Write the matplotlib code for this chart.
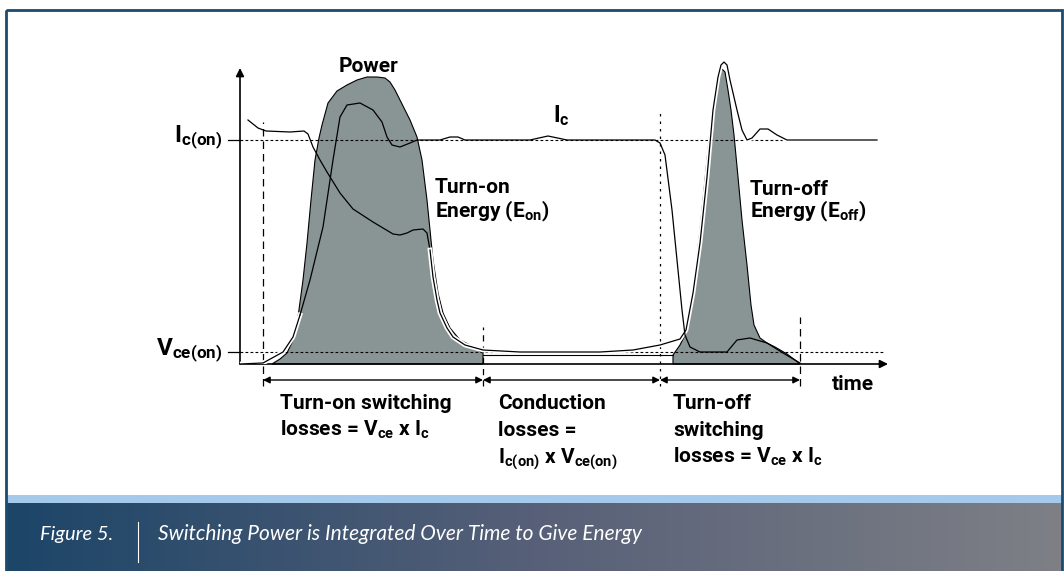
import numpy as np
import matplotlib
matplotlib.use('Agg')
import matplotlib.pyplot as plt
import matplotlib.patheffects as pe
from matplotlib.colors import LinearSegmentedColormap
from matplotlib.patches import Rectangle

# waveform readings: time t and amplitude a (arbitrary units, 0 = axis)
ic_t = [0, 23, 43, 53, 60, 70, 83, 93, 100, 107, 120, 133, 142, 147, 152, 160, 170, 177,
        200, 210, 218, 225, 290, 308, 327, 415, 420, 425, 432, 437, 442, 445, 450, 460,
        487, 497, 510, 527, 543, 560]
ic_a = [0, 1, 12, 27, 49, 84, 137, 204, 247, 259, 261, 254, 242, 227, 219, 217, 221, 224,
        224, 227, 227, 224, 224, 228, 224, 224, 221, 209, 154, 104, 54, 29, 17, 12,
        12, 24, 26, 21, 11, 1]

vce_t = [8, 18, 26, 50, 64, 68, 73, 80, 87, 100, 113, 133, 153, 160, 167, 173, 183, 187,
         190, 193, 197, 200, 207, 213, 225, 243, 280, 360, 393, 420, 440, 446, 453, 460,
         467, 473, 478, 481, 484, 487, 490, 497, 502, 507, 512, 520, 528, 537, 547, 637]
vce_a = [244, 236, 233, 232, 233, 230, 217, 204, 192, 171, 155, 142, 130, 129, 131, 134, 135, 131,
         114, 87, 64, 51, 36, 27, 19, 14, 12, 12, 14, 19, 25, 34, 71, 121,
         187, 254, 287, 299, 302, 299, 284, 254, 234, 224, 226, 235, 235, 229, 224, 224]

pon_t = [32, 40, 47, 53, 58, 63, 67, 71, 75, 79, 82, 88, 97, 107, 117, 127, 137, 145, 150,
         155, 160, 170, 177, 182, 187, 190, 193, 198, 203, 210, 220, 230, 243, 243]
pon_a = [0, 5, 11, 24, 47, 84, 121, 164, 204, 226, 239, 261, 273, 279, 284, 287, 287, 286, 282,
         274, 264, 244, 227, 204, 164, 134, 104, 71, 51, 36, 24, 19, 11, 0]

pcond_t = [243, 433]
pcond_a = [9, 9]

poff_t = [433, 433, 440, 445, 450, 455, 460, 465, 469, 473, 476, 479, 482, 485, 488, 491,
          494, 498, 502, 507, 511, 514, 520, 527, 535, 547, 555, 560]
poff_a = [0, 9, 19, 29, 52, 89, 134, 184, 224, 259, 279, 292, 295, 292, 274, 254,
          229, 187, 144, 99, 59, 39, 26, 21, 17, 10, 4, 0]

ic_on = 224
vce_on = 12
markers_t = [23, 243, 420, 560]
markers_top = [242, 37, 251, 47]

W, H = 1064, 571
plt.rcParams['font.family'] = ['Roboto', 'DejaVu Sans']
plt.rcParams['mathtext.fontset'] = 'custom'
plt.rcParams['mathtext.bf'] = 'Roboto:bold'
plt.rcParams['mathtext.rm'] = 'Roboto:bold'
plt.rcParams['mathtext.default'] = 'bf'

fig = plt.figure(figsize=(W / 100, H / 100), dpi=100)

# frame and caption band
bg = fig.add_axes([0, 0, 1, 1])
bg.set_xlim(0, W)
bg.set_ylim(H, 0)
bg.axis('off')
cmap = LinearSegmentedColormap.from_list('band', ['#1c4568', '#576078', '#7e8086'])
bg.imshow(np.linspace(0, 1, 256)[None, :], extent=[6, 1062, 571, 503], cmap=cmap, aspect='auto')
bg.add_patch(Rectangle((6, 495), 1056, 8, color='#a5c9ea', lw=0))
bg.add_patch(Rectangle((6, 10), 1056, 570, fill=False, ec='#1c4b6f', lw=2))
bg.text(40, 540, 'Figure 5.', color='white', fontsize=14.5, style='italic', family='Lato')
bg.plot([138, 138], [522, 562], color='white', lw=0.8)
bg.text(158, 540, 'Switching Power is Integrated Over Time to Give Energy', color='white',
        fontsize=15, style='italic', family='Lato')

ax = fig.add_axes([240 / W, (H - 364) / H, 648 / W, 296 / H])
ax.set_xlim(0, 648)
ax.set_ylim(0, 296)
ax.axis('off')

gray = '#899494'
ax.fill(pon_t, pon_a, color=gray, ec='black', lw=0.8, zorder=1, clip_on=False)
ax.fill(poff_t, poff_a, color=gray, ec='black', lw=0.8, zorder=1, clip_on=False)
ax.plot(pcond_t, pcond_a, color='black', lw=0.8, zorder=1)

# reference levels
ax.plot([0, 640], [ic_on, ic_on], color='black', lw=0.8, ls=(0, (2.5, 2)), zorder=2)
ax.plot([0, 645], [vce_on, vce_on], color='black', lw=0.8, ls=(0, (2.5, 2)), zorder=2,
        clip_on=False)
for lvl in (ic_on, vce_on):
    ax.plot([-12, 0], [lvl, lvl], color='black', lw=0.9, clip_on=False)
styles = [(0, (6, 4)), (0, (5, 4)), (0, (2, 4)), (0, (6, 4))]
for t, top, s in zip(markers_t, markers_top, styles):
    ax.plot([t, t], [-22, top], color='black', lw=0.9, ls=s, clip_on=False, zorder=2)

halo = [pe.Stroke(linewidth=3.4, foreground='white'), pe.Normal()]
vt = np.array(vce_t)
va = np.array(vce_a)
k = np.searchsorted(vt, 190)
ax.plot(vt[:k + 1], va[:k + 1], color='black', lw=0.9, zorder=3, clip_on=False)
ax.plot(vt[k:], va[k:], color='black', lw=0.9, zorder=3, path_effects=halo, clip_on=False)
it = np.array(ic_t)
ia = np.array(ic_a)
j = np.searchsorted(it, 60)
ax.plot(it[:j + 1], ia[:j + 1], color='black', lw=0.9, zorder=4, path_effects=halo)
ax.plot(it[j:], ia[j:], color='black', lw=0.9, zorder=4)

# axes arrows
arr = dict(arrowstyle='-|>', color='black', lw=1.2, mutation_scale=12, shrinkA=0, shrinkB=0)
ax.annotate('', xy=(0, 296), xytext=(0, 0), arrowprops=arr, annotation_clip=False)
ax.annotate('', xy=(648, 0), xytext=(0, 0), arrowprops=arr, annotation_clip=False)

# span arrows
dbl = dict(arrowstyle='<|-|>', color='black', lw=1, mutation_scale=10, shrinkA=0, shrinkB=0)
for t0, t1 in zip(markers_t[:-1], markers_t[1:]):
    ax.annotate('', xy=(t1, -16), xytext=(t0, -16), arrowprops=dbl, annotation_clip=False)

fs = 15
kw = dict(fontsize=fs, fontweight='bold', clip_on=False, va='baseline')
ax.text(-18, 222, r'$I_{c(on)}$', ha='right', fontsize=17.5, fontweight='bold',
        clip_on=False, va='baseline')
ax.text(-18, 9, r'$V_{ce(on)}$', ha='right', fontsize=17.5, fontweight='bold',
        clip_on=False, va='baseline')
ax.text(128, 292, 'Power', ha='center', **kw)
ax.text(313, 242, r'$I_c$', ha='left', fontsize=16.5, fontweight='bold', clip_on=False,
        va='baseline')
ax.text(195, 171, 'Turn-on', ha='left', **kw)
ax.text(195, 147, r'Energy (E$_{on}$)', ha='left', **kw)
ax.text(510, 169, 'Turn-off', ha='left', **kw)
ax.text(510, 147, r'Energy (E$_{off}$)', ha='left', **kw)
ax.text(592, -26, 'time', ha='left', **kw)
ax.text(40, -45, 'Turn-on switching', ha='left', **kw)
ax.text(40, -72, r'losses = V$_{ce}$ x I$_c$', ha='left', **kw)
ax.text(258, -45, 'Conduction', ha='left', **kw)
ax.text(258, -72, 'losses =', ha='left', **kw)
ax.text(258, -99, r'I$_{c(on)}$ x V$_{ce(on)}$', ha='left', **kw)
ax.text(433, -45, 'Turn-off', ha='left', **kw)
ax.text(433, -72, 'switching', ha='left', **kw)
ax.text(433, -99, r'losses = V$_{ce}$ x I$_c$', ha='left', **kw)

fig.savefig('out.png', dpi=100)
